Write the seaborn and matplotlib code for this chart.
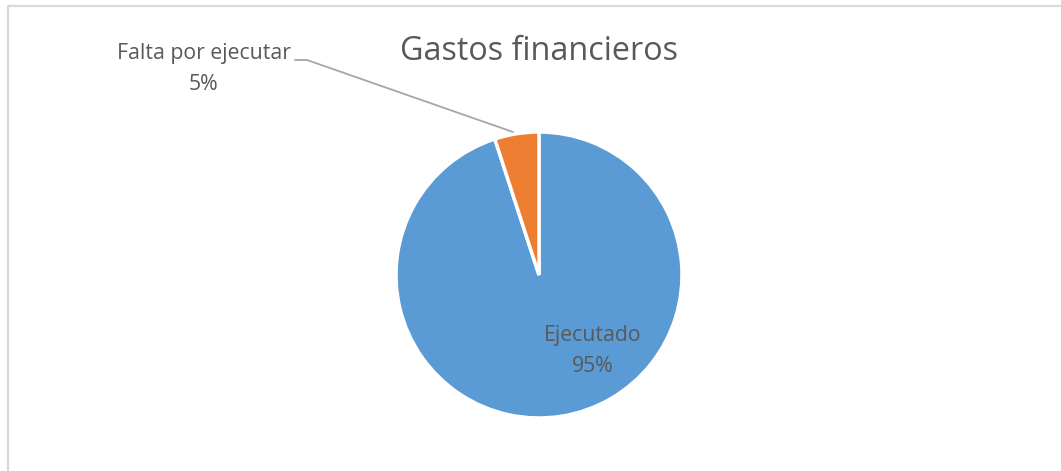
import matplotlib
matplotlib.use("Agg")
import matplotlib.pyplot as plt
import seaborn as sns
import numpy as np

# Data
categories = ["Ejecutado", "Falta por ejecutar"]
shares = [95, 5]
slice_colors = ["#5B9BD5", "#ED7D31"]
title = "Gastos financieros"

sns.set_theme(style="white")
plt.rcParams["font.family"] = ["Open Sans", "DejaVu Sans"]
text_color = "#595959"
label_size = 15.3

W, H = 1061, 471
fig = plt.figure(figsize=(W / 100, H / 100), dpi=100)
ax = fig.add_axes([0, 0, 1, 1])

# chart-area frame (only left and top edges visible)
ax.plot([8, 8, W + 5], [-5, H - 6, H - 6], color="#D9D9D9", lw=1.6,
        solid_capstyle="butt", zorder=1)

cx, cy, r = 539, H - 275, 143
wedges, _ = ax.pie(shares, colors=slice_colors, startangle=90, counterclock=False,
                   center=(cx, cy), radius=r, frame=True,
                   wedgeprops=dict(edgecolor="white", linewidth=2.5))
ax.set_xlim(0, W)
ax.set_ylim(0, H)
ax.set_aspect("equal")
ax.axis("off")

ax.text(cx, H - 51, title, ha="center", va="center", fontsize=23.3, color=text_color)

# inside label for the large slice
ax.text(593, H - 336, categories[0], ha="center", va="center",
        fontsize=label_size, color=text_color)
ax.text(593, H - 366, f"{shares[0]}%", ha="center", va="center",
        fontsize=label_size, color=text_color)

# outside label with leader line for the small slice
ax.text(204, H - 54, categories[1], ha="center", va="center",
        fontsize=label_size, color=text_color)
ax.text(204, H - 84, f"{shares[1]}%", ha="center", va="center",
        fontsize=label_size, color=text_color)
ax.plot([295, 307, 513], [H - 60, H - 60, H - 132], color="#A6A6A6", lw=1.3, zorder=3)

fig.savefig("out.png", dpi=100, facecolor="white")
